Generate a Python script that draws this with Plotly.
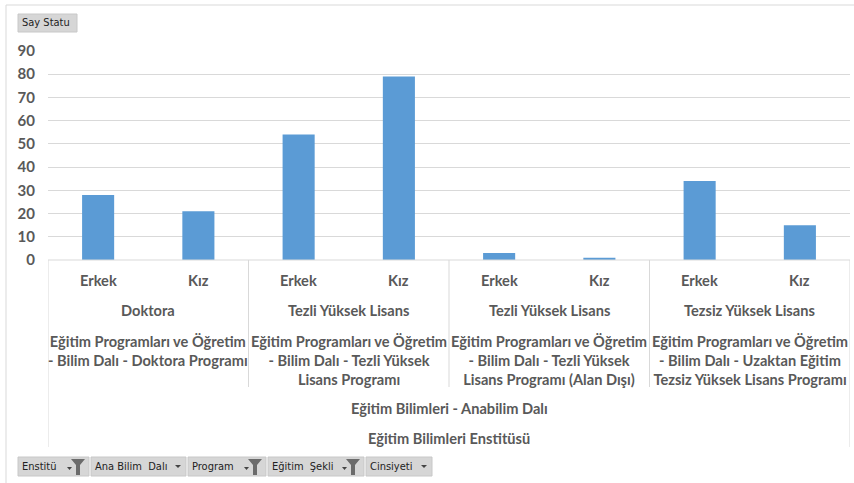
import plotly.graph_objects as go

# data
genders = ["Erkek", "Kız", "Erkek", "Kız", "Erkek", "Kız", "Erkek", "Kız"]
counts = [28, 21, 54, 79, 3, 1, 34, 15]
program_types = ["Doktora", "Tezli Yüksek Lisans", "Tezli Yüksek Lisans", "Tezsiz Yüksek Lisans"]
program_names = [
    "Eğitim Programları ve Öğretim<br>- Bilim Dalı - Doktora Programı",
    "Eğitim Programları ve Öğretim<br>- Bilim Dalı - Tezli Yüksek<br>Lisans Programı",
    "Eğitim Programları ve Öğretim<br>- Bilim Dalı - Tezli Yüksek<br>Lisans Programı (Alan Dışı)",
    "Eğitim Programları ve Öğretim<br>- Bilim Dalı - Uzaktan Eğitim<br>Tezsiz Yüksek Lisans Programı",
]
department = "Eğitim Bilimleri - Anabilim Dalı"
institute = "Eğitim Bilimleri Enstitüsü"
filter_buttons = ["Enstitü", "Ana Bilim  Dalı", "Program", "Eğitim  Şekli", "Cinsiyeti"]
filter_has_funnel = [True, False, True, True, False]

W, H = 854, 483
L, R, T, B = 48, 4, 51, 223
PLOT_W = W - L - R
PLOT_H = H - T - B

TXT = "#595959"
GRID = "#d9d9d9"
FONT = "Lato, Calibri, sans-serif"


def px_x(p):
    return (p - L) / PLOT_W


def px_y(p):
    return (H - B - p) / PLOT_H


ids = [f"c{i}" for i in range(len(counts))]

fig = go.Figure(
    go.Bar(x=ids, y=counts, marker_color="#5b9bd5", marker_line_width=0,
           hoverinfo="y")
)

shapes = []
annotations = []

# horizontal axis line
shapes.append(dict(type="line", xref="x", yref="paper", x0=-0.5, x1=len(ids) - 0.5,
                   y0=0, y1=0, line=dict(color=GRID, width=1)))
# group separators
for k in range(len(program_types) + 1):
    xpos = 2 * k - 0.5
    outer = k in (0, len(program_types))
    shapes.append(dict(type="line", xref="x", yref="paper", x0=xpos, x1=xpos,
                       y0=0, y1=px_y(447 if outer else 387),
                       line=dict(color=GRID, width=1)))

# outer chart border (top + left)
shapes.append(dict(type="line", xref="paper", yref="paper", x0=px_x(6), x1=px_x(854),
                   y0=px_y(5), y1=px_y(5), line=dict(color=GRID, width=1)))
shapes.append(dict(type="line", xref="paper", yref="paper", x0=px_x(6), x1=px_x(6),
                   y0=px_y(5), y1=px_y(483), line=dict(color=GRID, width=1)))

lab_font = dict(family=FONT, size=14.6, color=TXT)
for i, g in enumerate(genders):
    annotations.append(dict(x=i, y=px_y(280), xref="x", yref="paper", text=f"<b>{g}</b>",
                            showarrow=False, font=lab_font, xanchor="center", yanchor="middle"))
for k, (pt, pn) in enumerate(zip(program_types, program_names)):
    annotations.append(dict(x=2 * k + 0.5, y=px_y(310), xref="x", yref="paper",
                            text=f"<b>{pt}</b>", showarrow=False, font=lab_font,
                            xanchor="center", yanchor="middle"))
    annotations.append(dict(x=2 * k + 0.5, y=px_y(331), xref="x", yref="paper",
                            text=f"<b>{pn}</b>", showarrow=False, font=lab_font,
                            xanchor="center", yanchor="top", align="center"))
annotations.append(dict(x=3.5, y=px_y(408), xref="x", yref="paper", text=f"<b>{department}</b>",
                        showarrow=False, font=lab_font, xanchor="center", yanchor="middle"))
annotations.append(dict(x=3.5, y=px_y(438), xref="x", yref="paper", text=f"<b>{institute}</b>",
                        showarrow=False, font=lab_font, xanchor="center", yanchor="middle"))

# pivot field buttons
btn_font = dict(family="DejaVu Sans Condensed, Liberation Sans, sans-serif", size=11, color="#222222")


def add_button(x0, x1, y0, y1, text, funnel=None, arrow=False):
    shapes.append(dict(type="rect", xref="paper", yref="paper", x0=px_x(x0), x1=px_x(x1),
                       y0=px_y(y1), y1=px_y(y0), fillcolor="#d6d6d6",
                       line=dict(color="#c8c8c8", width=1), layer="above"))
    annotations.append(dict(x=px_x(x0 + 2), y=px_y((y0 + y1) / 2), xref="paper", yref="paper",
                            text=text, showarrow=False, font=btn_font,
                            xanchor="left", yanchor="middle"))
    if arrow:
        ax = x1 - 8
        ay = (y0 + y1) / 2
        shapes.append(dict(type="path", xref="paper", yref="paper",
                           path=f"M {px_x(ax - 3)} {px_y(ay - 1.5)} L {px_x(ax + 3)} {px_y(ay - 1.5)} "
                                f"L {px_x(ax)} {px_y(ay + 1.5)} Z",
                           fillcolor="#444444", line=dict(width=0)))
    if funnel:
        fx = x1 - 11
        fy0, fy1 = y0 + 2, y1 - 1
        shapes.append(dict(type="path", xref="paper", yref="paper",
                           path=f"M {px_x(fx - 7)} {px_y(fy0)} L {px_x(fx + 7)} {px_y(fy0)} "
                                f"L {px_x(fx + 2)} {px_y(fy0 + 6)} L {px_x(fx + 2)} {px_y(fy1)} "
                                f"L {px_x(fx - 2)} {px_y(fy1)} L {px_x(fx - 2)} {px_y(fy0 + 6)} Z",
                           fillcolor="#6b6b6b", line=dict(width=0)))
        shapes.append(dict(type="path", xref="paper", yref="paper",
                           path=f"M {px_x(fx - 11)} {px_y(fy0 + 8)} L {px_x(fx - 6)} {px_y(fy0 + 8)} "
                                f"L {px_x(fx - 8.5)} {px_y(fy0 + 11)} Z",
                           fillcolor="#444444", line=dict(width=0)))


add_button(18, 77, 14, 32, "Say Statu")
btn_edges = [(18, 89), (91, 186), (188, 266), (268, 364), (366, 432)]
for (bx0, bx1), txt, fun in zip(btn_edges, filter_buttons, filter_has_funnel):
    add_button(bx0, bx1, 457, 476, txt, funnel=fun, arrow=not fun)

fig.update_layout(
    width=W, height=H,
    margin=dict(l=L, r=R, t=T, b=B),
    paper_bgcolor="white", plot_bgcolor="white",
    bargap=0.68,
    showlegend=False,
    shapes=shapes,
    annotations=annotations,
    xaxis=dict(showticklabels=False, showgrid=False, zeroline=False, showline=False,
               range=[-0.5, len(ids) - 0.5]),
    yaxis=dict(range=[0, 90], dtick=10, showgrid=True, gridcolor=GRID, gridwidth=1,
               zeroline=False, showline=False, ticks="", ticklabelstandoff=12,
               tickfont=dict(family=FONT, size=15, color=TXT, weight="bold")),
)

fig.write_html("out.html", config={"displayModeBar": False},
               post_script="document.body.style.margin = '0px';")
